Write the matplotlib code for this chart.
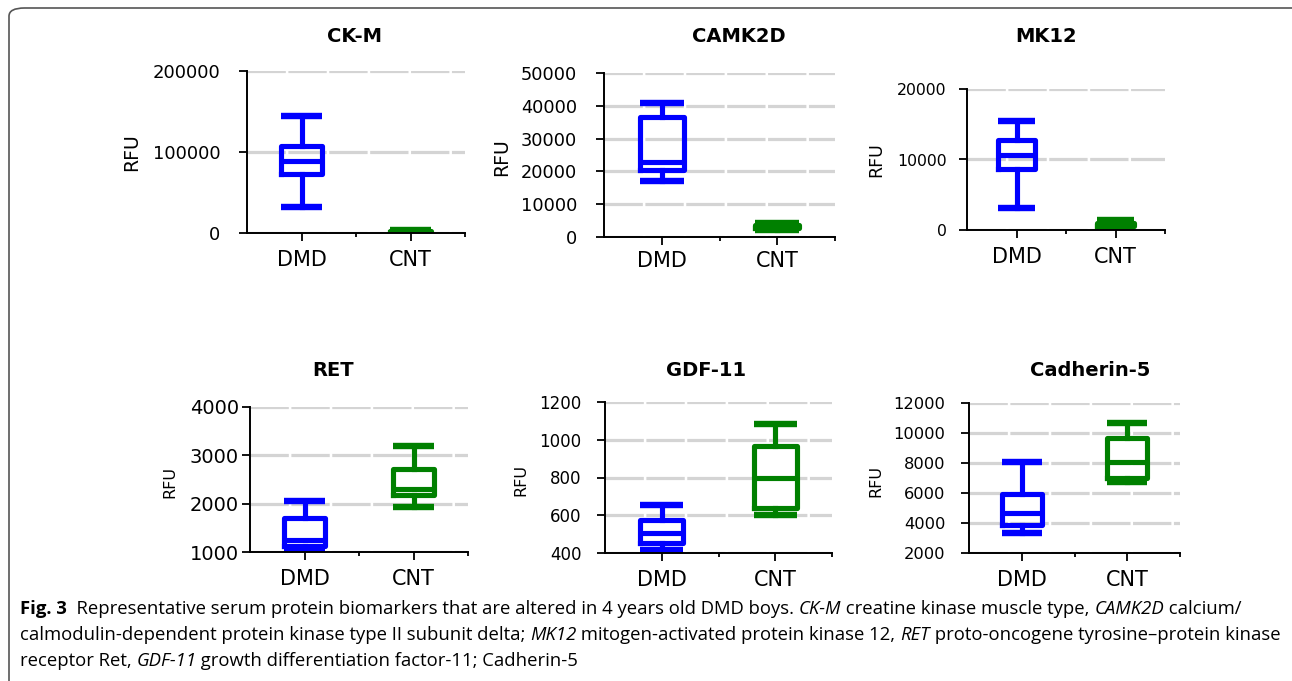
import matplotlib
matplotlib.use("Agg")
import matplotlib.pyplot as plt
from matplotlib.patches import FancyBboxPatch
from matplotlib.ticker import FixedLocator

W, H = 1292, 681

titles = ["CK-M", "CAMK2D", "MK12", "RET", "GDF-11", "Cadherin-5"]
groups = ["DMD", "CNT"]

# five-number summaries: whisker low, q1, median, q3, whisker high
ckm_dmd = [32000, 73000, 89000, 107000, 145000]
ckm_cnt = [500, 900, 1800, 2800, 3500]
camk2d_dmd = [17000, 20500, 23000, 36600, 41000]
camk2d_cnt = [2200, 2600, 3100, 3700, 4200]
mk12_dmd = [3100, 8600, 10700, 12700, 15400]
mk12_cnt = [400, 600, 800, 1000, 1400]
ret_dmd = [1040, 1120, 1240, 1700, 2050]
ret_cnt = [1930, 2180, 2310, 2720, 3190]
gdf11_dmd = [415, 455, 505, 575, 655]
gdf11_cnt = [600, 640, 795, 965, 1085]
cad5_dmd = [3350, 3900, 4700, 5950, 8050]
cad5_cnt = [6750, 7000, 8100, 9700, 10650]

dmd_stats = [ckm_dmd, camk2d_dmd, mk12_dmd, ret_dmd, gdf11_dmd, cad5_dmd]
cnt_stats = [ckm_cnt, camk2d_cnt, mk12_cnt, ret_cnt, gdf11_cnt, cad5_cnt]

yticks = [
    [0, 100000, 200000],
    [0, 10000, 20000, 30000, 40000, 50000],
    [0, 10000, 20000],
    [1000, 2000, 3000, 4000],
    [400, 600, 800, 1000, 1200],
    [2000, 4000, 6000, 8000, 10000, 12000],
]

# layout (pixels): plot area left, right, top, bottom
areas = [
    (247, 465, 71, 233),
    (604, 835, 73, 237),
    (967, 1165, 89, 230),
    (250, 468, 407, 552),
    (605, 832, 402, 553),
    (969, 1180, 403, 553),
]
title_xy = [(354, 36), (739, 36), (1046, 36), (333, 370), (706, 370), (1090, 370)]
rfu_xy = [(132, 152), (502, 157), (876, 160), (170, 482), (521, 480), (876, 481)]
rfu_size = [13.5, 13.5, 12.5, 11.5, 11.5, 11.5]
ytick_size = [13, 12.8, 11.3, 14, 12, 11.7]
ytick_pad = [13, 13.5, 8.5, 2, 11, 11]
xlab_pad = [6, 4, 6, 6, 6, 6]

colors = {"DMD": "#0000ff", "CNT": "#008000"}

fig = plt.figure(figsize=(W / 100, H / 100), dpi=100)


def px_text(x, y, s, **kw):
    return fig.text(x / W, 1 - y / H, s, **kw)


for i, title in enumerate(titles):
    l, r, t, b = areas[i]
    ax = fig.add_axes([l / W, 1 - b / H, (r - l) / W, (b - t) / H])
    ax.set_xlim(0.5, 2.5)
    ax.set_ylim(yticks[i][0], yticks[i][-1])
    ax.set_yticks(yticks[i])
    ax.set_yticklabels([str(v) for v in yticks[i]])
    ax.set_xticks([1, 2])
    ax.set_xticklabels(groups)
    ax.xaxis.set_minor_locator(FixedLocator([1.5, 2.5]))
    ax.tick_params(axis="y", length=6, width=1.3, labelsize=ytick_size[i], pad=ytick_pad[i])
    ax.tick_params(axis="x", which="major", length=6, width=1.3, labelsize=15, pad=xlab_pad[i])
    ax.tick_params(axis="x", which="minor", length=3, width=1.3)
    for side in ["top", "right"]:
        ax.spines[side].set_visible(False)
    for side in ["left", "bottom"]:
        ax.spines[side].set_linewidth(1.4)
    ax.set_axisbelow(True)
    ax.yaxis.grid(True, color="#d4d4d4", lw=2.3, linestyle=(0, (12, 0.8)))
    ax.set_facecolor("none")

    for pos, (g, vals) in enumerate(zip(groups, [dmd_stats[i], cnt_stats[i]]), start=1):
        lo, q1, med, q3, hi = vals
        st = dict(whislo=lo, q1=q1, med=med, q3=q3, whishi=hi, fliers=[], label=g)
        c = colors[g]
        ax.bxp([st], positions=[pos], widths=0.38, capwidths=0.38, showfliers=False,
               boxprops=dict(color=c, lw=3.7),
               medianprops=dict(color=c, lw=3.7, solid_capstyle="butt"),
               whiskerprops=dict(color=c, lw=3.7),
               capprops=dict(color=c, lw=4.6, solid_capstyle="butt"),
               manage_ticks=False)

    px_text(title_xy[i][0], title_xy[i][1], title, ha="center", va="center",
            fontsize=14, fontweight="bold")
    px_text(rfu_xy[i][0], rfu_xy[i][1], "RFU", ha="center", va="center",
            rotation=90, fontsize=rfu_size[i])

# rounded frame around the figure
frame = FancyBboxPatch((9 / W, -20 / H), (W + 40) / W, (H - 8 + 20) / H,
                       boxstyle="round,pad=0,rounding_size=0.012",
                       transform=fig.transFigure, fill=False,
                       edgecolor="#555555", lw=1.2, clip_on=False)
fig.patches.append(frame)

# caption with mixed bold / italic runs
cap_font = "Open Sans"
cap_size = 13.3
caption_lines = [
    [("Fig. 3", "bold"), ("  Representative serum protein biomarkers that are altered in 4 years old DMD boys. ", "normal"),
     ("CK-M", "italic"), (" creatine kinase muscle type, ", "normal"), ("CAMK2D", "italic"), (" calcium/", "normal")],
    [("calmodulin-dependent protein kinase type II subunit delta; ", "normal"), ("MK12", "italic"),
     (" mitogen-activated protein kinase 12, ", "normal"), ("RET", "italic"),
     (" proto-oncogene tyrosine\u2013protein kinase", "normal")],
    [("receptor Ret, ", "normal"), ("GDF-11", "italic"), (" growth differentiation factor-11; Cadherin-5", "normal")],
]
baselines = [614, 640, 666]

renderer = fig.canvas.get_renderer()


def run_width(s, style):
    kw = dict(fontsize=cap_size, family=cap_font)
    if style == "bold":
        kw["fontweight"] = "bold"
    elif style == "italic":
        kw["fontstyle"] = "italic"
    t = fig.text(0, 0, "|" + s + "|", **kw)
    w = t.get_window_extent(renderer).width
    t.remove()
    t = fig.text(0, 0, "||", **kw)
    w -= t.get_window_extent(renderer).width
    t.remove()
    return w, kw


for line, yb in zip(caption_lines, baselines):
    x = 20
    for s, style in line:
        w, kw = run_width(s, style)
        px_text(x, yb, s, ha="left", va="baseline", **kw)
        x += w

fig.savefig("out.png", dpi=100)
